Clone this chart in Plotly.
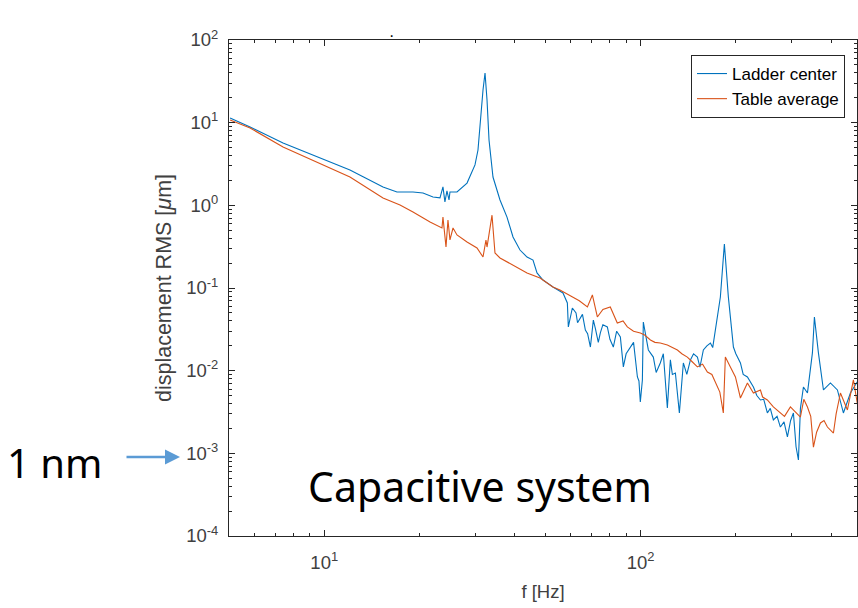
import plotly.graph_objects as go

# Ladder center (blue)
f_ladder = [5.04, 5.83, 7.41, 9.49, 12.06, 15.34, 16.98, 19.08, 20.52, 22.07, 23.22, 23.73, 24.07, 24.43,
            24.8, 24.97, 26.28, 28.27, 29.53, 29.96, 30.62, 31.07, 31.76, 32.23, 32.70, 33.18, 34.15, 35.94,
            37.82, 39.51, 41.57, 43.75, 45.70, 47.05, 49.15, 52.84, 56.84, 58.68, 59.1, 60.85, 62.5, 63.2,
            64.5, 65.5, 66.9, 68.0, 69.4, 70.9, 72.0, 73.5, 74.6, 76.0, 78.5, 80.0, 82.0, 84.0, 86.3, 88.2,
            90.0, 92.8, 95.0, 97.7, 98.8, 99.8, 101.3, 102.0, 105.8, 109.7, 112.0, 115.4, 118.0, 121.5, 124.2,
            126.0, 128.8, 132.6, 136.5, 140.0, 143.7, 147.0, 151.2, 154.0, 157.9, 162.0, 166.2, 169.0, 172.3,
            178.7, 184.0, 189.4, 196.5, 200.0, 206.8, 211.0, 217.6, 222.0, 227.3, 233.0, 239.2, 245.0, 251.6,
            257.0, 262.8, 270.0, 276.6, 284.0, 291.1, 298.0, 304.1, 310.0, 315.4, 320.0, 327.1, 336.8, 349.2,
            354.3, 364.8, 378.4, 398.1, 418.9, 437.5, 460.4, 477.5, 488.0]
v_ladder = [11.4, 8.86, 5.68, 3.84, 2.68, 1.67, 1.45, 1.45, 1.41, 1.26, 1.23, 1.67, 1.10, 1.5,
            1.16, 1.45, 1.45, 1.86, 2.68, 3.08, 4.67, 9.37, 24.8, 39.9, 18.8, 6.17, 2.20, 1.16,
            0.72, 0.414, 0.288, 0.237, 0.218, 0.152, 0.125, 0.103, 0.087, 0.0659, 0.0338, 0.0573, 0.050, 0.038,
            0.0446, 0.048, 0.0310, 0.028, 0.0193, 0.0410, 0.032, 0.022, 0.0286, 0.036, 0.0338, 0.024, 0.0193, 0.030, 0.0256, 0.0111,
            0.016, 0.0193, 0.022, 0.00839, 0.0075, 0.00418, 0.00772, 0.0388, 0.0178, 0.0146, 0.0095, 0.0124, 0.016, 0.00354, 0.0135,
            0.009, 0.00937, 0.00308, 0.0124, 0.009, 0.0135, 0.016, 0.0146, 0.011, 0.0178, 0.020, 0.0216, 0.019, 0.0310,
            0.0778, 0.341, 0.0778, 0.0193, 0.016, 0.0124, 0.009, 0.00839, 0.0075, 0.00635, 0.005, 0.00442, 0.0045, 0.00308,
            0.0035, 0.00253, 0.0028, 0.00208, 0.0024, 0.00158, 0.0025, 0.00308, 0.0012, 0.00083, 0.0035, 0.00635, 0.00537, 0.0164,
            0.0446, 0.0164, 0.00584, 0.00710, 0.00584, 0.00308, 0.00537, 0.00671, 0.0077]

# Table average (orange)
f_table = [5.04, 5.83, 7.41, 9.49, 12.06, 15.34, 17.36, 19.08, 21.6, 23.56, 23.73, 24.26, 24.61, 24.97,
           25.53, 26.28, 28.27, 30.4, 31.76, 32.45, 32.70, 33.91, 34.65, 35.94, 39.51, 43.75, 48.1, 52.84,
           55.6, 61.3, 64.0, 67.9, 70.4, 73.0, 76.0, 80.2, 84.4, 88.0, 90.8, 95.0, 99.8, 103.0, 107.4, 111.0,
           115.4, 121.5, 130.7, 135.0, 140.5, 145.0, 151.2, 157.0, 162.6, 168.0, 174.8, 178.0, 182.6, 185.3,
           192.2, 199.4, 206.8, 217.6, 227.3, 239.2, 243.0, 251.6, 262.8, 276.6, 285.0, 297.5, 308.0, 320.0,
           328.0, 336.8, 345.0, 351.8, 360.0, 370.2, 380.0, 389.5, 406.9, 415.0, 428.2, 450.5, 470.6, 488.0]
v_table = [10.8, 8.62, 5.08, 3.34, 2.20, 1.23, 1.01, 0.83, 0.629, 0.532, 0.72, 0.313, 0.665, 0.381,
           0.532, 0.438, 0.360, 0.305, 0.237, 0.381, 0.313, 0.76, 0.265, 0.231, 0.190, 0.152, 0.132, 0.103,
           0.0946, 0.0778, 0.070, 0.0589, 0.0823, 0.0446, 0.055, 0.0589, 0.0377, 0.040, 0.0338, 0.030, 0.0286, 0.027, 0.0235, 0.022,
           0.0216, 0.0205, 0.0178, 0.016, 0.0146, 0.013, 0.0111, 0.012, 0.00964, 0.009, 0.00635, 0.0055, 0.00308, 0.0146,
           0.0111, 0.00839, 0.00467, 0.00710, 0.00537, 0.00584, 0.0048, 0.00442, 0.00364, 0.00308, 0.0028, 0.00364, 0.0032, 0.00275,
           0.0045, 0.00364, 0.0028, 0.00119, 0.0018, 0.00233, 0.0025, 0.00208, 0.00176, 0.0030, 0.00537, 0.00335, 0.00772, 0.00335]

x_tick_vals = [10, 100]
x_tick_text = ["10<sup>1</sup>", "10<sup>2</sup>"]
y_tick_vals = [1e-4, 1e-3, 1e-2, 1e-1, 1, 10, 100]
y_tick_text = ["10<sup>-4</sup>", "10<sup>-3</sup>", "10<sup>-2</sup>", "10<sup>-1</sup>",
               "10<sup>0</sup>", "10<sup>1</sup>", "10<sup>2</sup>"]

x_range = [0.699, 2.684]
y_range = [-4, 2]

W, H = 858, 608
L, R, T, B = 229, 1, 40, 72
pw, ph = W - L - R, H - T - B

def px(x):
    return (x - L) / pw

def py(y):
    return (H - B - y) / ph

x_minor = [m * 10 ** k for k in range(0, 3) for m in range(2, 10)]
y_minor = [m * 10.0 ** k for k in range(-4, 2) for m in range(2, 10)]

axis_col = "#262626"
font_fam = "Liberation Sans, Arial, sans-serif"
tick_font = dict(family=font_fam, size=18.5, color="#404040")

fig = go.Figure()
fig.add_trace(go.Scatter(x=f_ladder, y=v_ladder, mode="lines", name="Ladder center",
                         line=dict(color="#0072BD", width=1.1)))
fig.add_trace(go.Scatter(x=f_table, y=v_table, mode="lines", name="Table average",
                         line=dict(color="#D95319", width=1.1)))

fig.update_layout(
    width=W, height=H,
    margin=dict(l=L, r=R, t=T, b=B, autoexpand=False),
    paper_bgcolor="white", plot_bgcolor="white",
    showlegend=True,
    legend=dict(x=px(845), y=py(55), xanchor="right", yanchor="top",
                bgcolor="white", bordercolor=axis_col, borderwidth=1,
                font=dict(family=font_fam, size=17, color="#000000"),
                tracegroupgap=0),
    xaxis=dict(type="log", range=x_range, tickmode="array", tickvals=x_tick_vals, ticktext=x_tick_text,
               automargin=False,
               showgrid=False, zeroline=False, showline=True, linecolor=axis_col, linewidth=1,
               mirror="ticks", ticks="inside", ticklen=6, tickcolor=axis_col,
               minor=dict(tickmode="array", tickvals=x_minor, ticks="inside", ticklen=3,
                          tickcolor=axis_col, showgrid=False),
               tickfont=tick_font, ticklabelstandoff=10,
               title=dict(text="f [Hz]", font=dict(family=font_fam, size=18.5, color="#404040"),
                          standoff=12)),
    yaxis=dict(type="log", range=y_range, tickmode="array", tickvals=y_tick_vals, ticktext=y_tick_text,
               automargin=False,
               showgrid=False, zeroline=False, showline=True, linecolor=axis_col, linewidth=1,
               mirror="ticks", ticks="inside", ticklen=6, tickcolor=axis_col,
               minor=dict(tickmode="array", tickvals=y_minor, ticks="inside", ticklen=3,
                          tickcolor=axis_col, showgrid=False),
               tickfont=tick_font, ticklabelstandoff=6,
               title=dict(text="displacement RMS [<i>μ</i>m]",
                          font=dict(family=font_fam, size=21.5, color="#404040"),
                          standoff=8)),
    annotations=[
        dict(text="Capacitive system", xref="paper", yref="paper", x=px(480), y=py(486),
             xanchor="center", yanchor="middle", showarrow=False,
             font=dict(family="Noto Sans, Open Sans, sans-serif", size=41, color="#000000")),
        dict(text="1 nm", xref="paper", yref="paper", x=px(54), y=py(462),
             xanchor="center", yanchor="middle", showarrow=False,
             font=dict(family="Noto Sans, Open Sans, sans-serif", size=40, color="#000000")),
        dict(text="", xref="paper", yref="paper", x=px(180), y=py(457),
             showarrow=True, axref="pixel", ayref="pixel", ax=-55, ay=0,
             arrowhead=2, arrowsize=1.2, arrowwidth=2.5, arrowcolor="#5B9BD5"),
        dict(text="·", xref="paper", yref="paper", x=px(391), y=py(35),
             xanchor="center", yanchor="middle", showarrow=False,
             font=dict(family=font_fam, size=16, color="#000000")),
    ],
)

fig.write_html("out.html", config={"displayModeBar": False},
               post_script="document.body.style.margin='0';document.body.style.overflow='hidden';")
